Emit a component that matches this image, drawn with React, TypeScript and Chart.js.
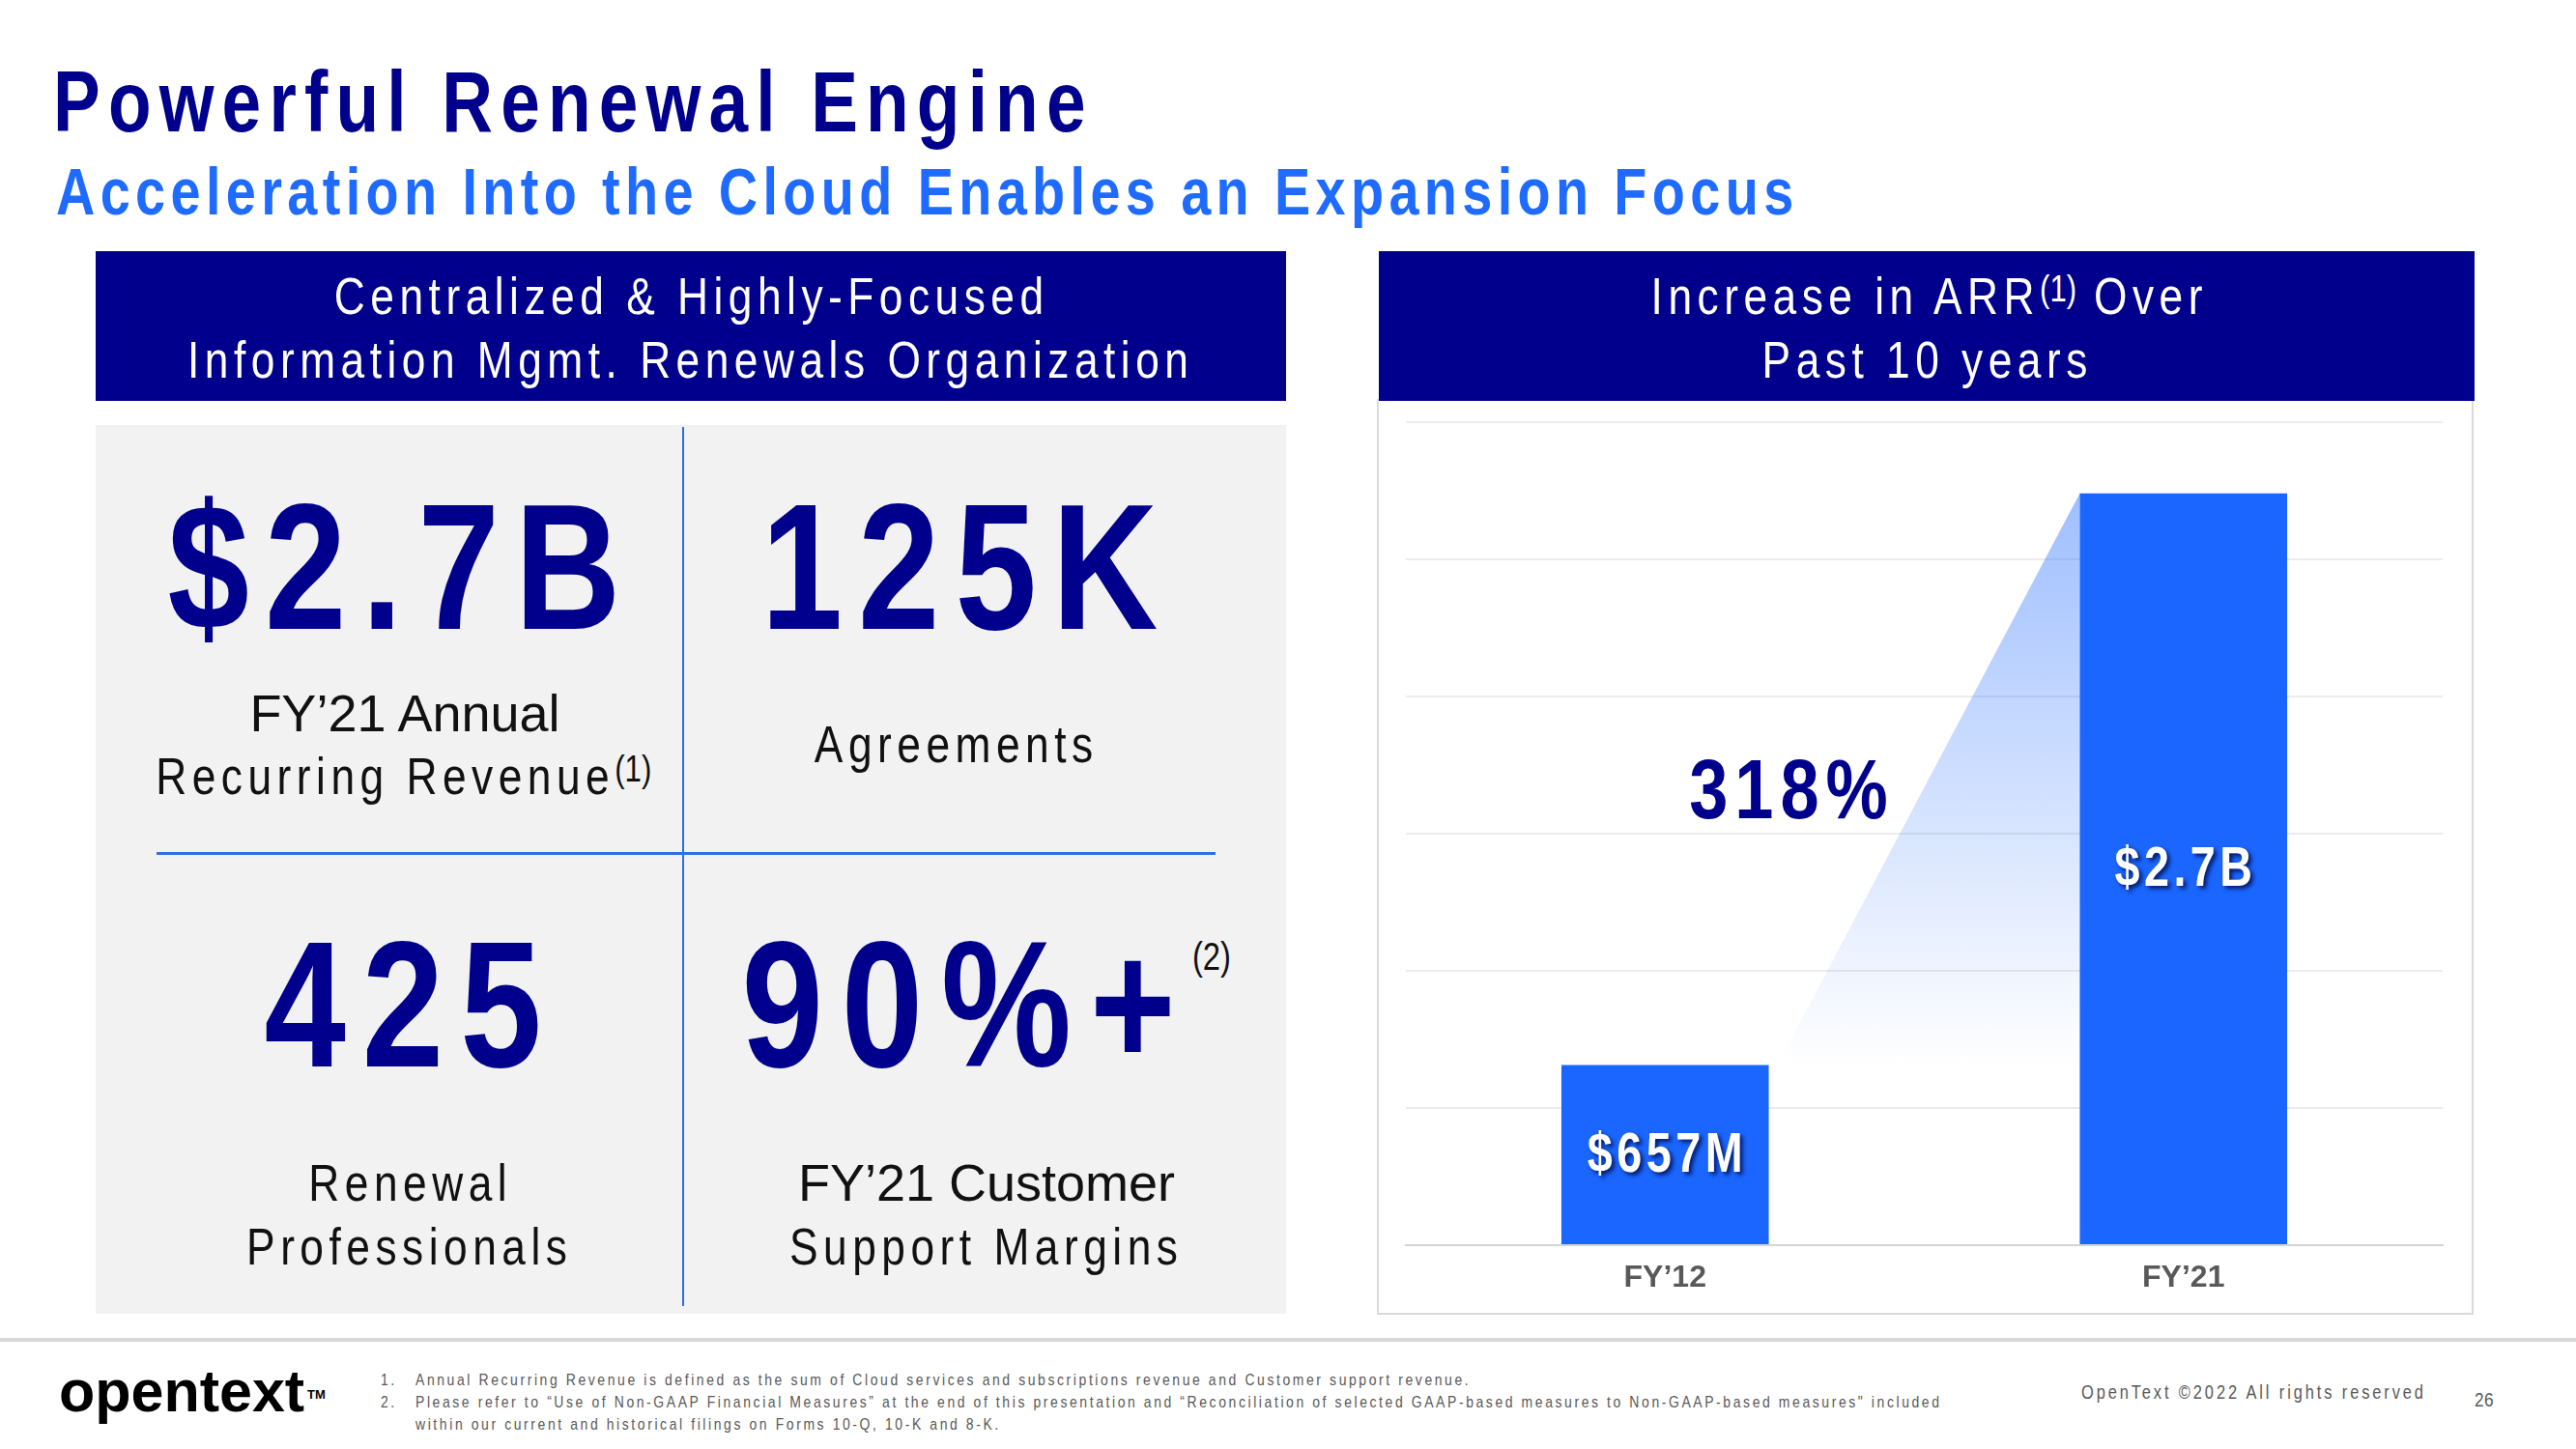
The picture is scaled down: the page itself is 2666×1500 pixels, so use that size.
import React, { useEffect, useRef } from 'react';
import { Chart, registerables } from 'chart.js';

Chart.register(...registerables);

// ---- data ----
const categories = ['FY’12', 'FY’21'];
const arrMillions = [657, 2740];
const barLabels = ['$657M', '$2.7B'];
const axisMin = 0;
const axisMax = 3000;
const axisStep = 500;
const growthLabel = '318%';

// ---- styles ----
const NAVY = '#00008C';
const BLUE = '#1A66FF';
const SUB_BLUE = '#1F6BFF';
const LINE_BLUE = '#2F6FE6';
const SANS = '"Liberation Sans", Arial, sans-serif';
const NARROW_SCALE = 0.82;

type TProps = {
  cx?: number;
  x?: number;
  y: number;
  w?: number;
  size: number;
  bold?: boolean;
  color?: string;
  ls?: number;
  narrow?: boolean;
  children?: React.ReactNode;
};

function T({ cx, x, y, w = 1400, size, bold, color = '#111', ls = 0, narrow = true, children }: TProps) {
  const lh = Math.round(size * 1.2);
  const k = narrow ? NARROW_SCALE : 1;
  const cssLs = ls / k;
  const style: React.CSSProperties = {
    position: 'absolute',
    top: y - lh / 2,
    lineHeight: lh + 'px',
    height: lh,
    fontSize: size,
    fontFamily: SANS,
    fontWeight: bold ? 700 : 400,
    color,
    letterSpacing: cssLs,
    whiteSpace: 'nowrap',
  };
  if (cx !== undefined) {
    style.left = cx - w / 2;
    style.width = w;
    style.textAlign = 'center';
    style.paddingLeft = cssLs;
    style.boxSizing = 'border-box';
    if (narrow) {
      style.transform = `scaleX(${k})`;
      style.transformOrigin = '50% 50%';
    }
  } else {
    style.left = x;
    if (narrow) {
      style.transform = `scaleX(${k})`;
      style.transformOrigin = '0 50%';
    }
  }
  return <div style={style}>{children}</div>;
}

function Sup({ size, top, children }: { size: number; top: number; children: React.ReactNode }) {
  return (
    <span style={{ fontSize: size, position: 'relative', top, letterSpacing: 0, lineHeight: 0 }}>{children}</span>
  );
}

function ArrChart() {
  const ref = useRef<HTMLCanvasElement | null>(null);
  useEffect(() => {
    const canvas = ref.current;
    if (!canvas) return;

    const gradientPlugin = {
      id: 'growthWedge',
      beforeDatasetsDraw(chart: any) {
        const meta = chart.getDatasetMeta(0);
        const b0 = meta.data[0];
        const b1 = meta.data[1];
        if (!b0 || !b1) return;
        const ctx = chart.ctx;
        const x0 = b0.x + b0.width / 2 + 9;
        const x1 = b1.x - b1.width / 2;
        const g = ctx.createLinearGradient(0, b1.y, 0, b0.y);
        g.addColorStop(0, 'rgba(26,102,255,0.42)');
        g.addColorStop(1, 'rgba(26,102,255,0)');
        ctx.save();
        ctx.beginPath();
        ctx.moveTo(x0, b0.y);
        ctx.lineTo(x1, b1.y);
        ctx.lineTo(x1, b0.y);
        ctx.closePath();
        ctx.fillStyle = g;
        ctx.fill();
        ctx.restore();
      },
    };

    const labelPlugin = {
      id: 'barValueLabels',
      afterDatasetsDraw(chart: any) {
        const meta = chart.getDatasetMeta(0);
        const ctx = chart.ctx;
        const ls = 4.5;
        meta.data.forEach((bar: any, i: number) => {
          const cy = (bar.y + bar.base) / 2;
          ctx.save();
          ctx.translate(bar.x, cy + 2);
          ctx.scale(NARROW_SCALE, 1);
          ctx.font = `bold 57px ${SANS}`;
          (ctx as any).letterSpacing = ls / NARROW_SCALE + 'px';
          ctx.textAlign = 'center';
          ctx.textBaseline = 'middle';
          ctx.fillStyle = '#ffffff';
          ctx.shadowColor = 'rgba(0,15,80,0.85)';
          ctx.shadowOffsetX = 3;
          ctx.shadowOffsetY = 3;
          ctx.shadowBlur = 4;
          ctx.fillText(barLabels[i], ls / NARROW_SCALE / 2, 0);
          ctx.restore();
        });
      },
    };

    const chart = new Chart(canvas, {
      type: 'bar',
      data: {
        labels: categories,
        datasets: [
          {
            data: arrMillions,
            backgroundColor: BLUE,
            borderWidth: 0,
            categoryPercentage: 0.8,
            barPercentage: 0.5,
          },
        ],
      },
      options: {
        responsive: false,
        animation: false,
        devicePixelRatio: 1,
        layout: { padding: { left: 28, right: 29, top: 20, bottom: 0 } },
        plugins: { legend: { display: false }, tooltip: { enabled: false } },
        scales: {
          x: {
            grid: { display: false, drawTicks: false },
            border: { display: true, color: '#d4d4d4', width: 2 },
            ticks: {
              padding: 15,
              color: '#595959',
              font: { family: SANS, size: 32, weight: 'bold' },
            },
            afterFit: (s: any) => {
              s.height = 69;
            },
          },
          y: {
            min: axisMin,
            max: axisMax,
            ticks: { display: false, stepSize: axisStep },
            grid: { color: '#ececec', lineWidth: 2, drawTicks: false },
            border: { display: false },
            afterFit: (s: any) => {
              s.width = 0;
            },
          },
        },
      },
      plugins: [gradientPlugin, labelPlugin],
    } as any);
    return () => chart.destroy();
  }, []);
  return (
    <canvas
      ref={ref}
      width={1130}
      height={941}
      style={{ position: 'absolute', left: 1427, top: 417, width: 1130, height: 941 }}
    />
  );
}

export default function App() {
  useEffect(() => {
    document.body.style.margin = '0';
  }, []);
  const lbl = 54;
  const lblLs = 5.5;
  const big = 185;
  const bigLs = 16;
  const fnLs = 2.6;
  return (
    <div
      style={{
        position: 'absolute',
        left: 0,
        top: 0,
        width: 2666,
        height: 1500,
        overflow: 'hidden',
        background: '#ffffff',
      }}
    >
      {/* Titles */}
      <T x={55} y={105} size={89} bold color={NAVY} ls={8.2}>
        Powerful Renewal Engine
      </T>
      <T x={58} y={198} size={68} bold color={SUB_BLUE} ls={5.4}>
        Acceleration Into the Cloud Enables an Expansion Focus
      </T>

      {/* Left header */}
      <div style={{ position: 'absolute', left: 99, top: 260, width: 1232, height: 155, background: NAVY }} />
      <T cx={713} y={306} size={lbl} color="#ffffff" ls={lblLs}>
        Centralized &amp; Highly-Focused
      </T>
      <T cx={712} y={372} size={lbl} color="#ffffff" ls={lblLs}>
        Information Mgmt. Renewals Organization
      </T>

      {/* Left panel */}
      <div style={{ position: 'absolute', left: 99, top: 440, width: 1232, height: 920, background: '#f2f2f2' }} />
      <div style={{ position: 'absolute', left: 706, top: 442, width: 2, height: 910, background: LINE_BLUE }} />
      <div style={{ position: 'absolute', left: 162, top: 882, width: 1096, height: 3, background: LINE_BLUE }} />

      <T cx={408} y={587} size={big} bold color={NAVY} ls={bigLs}>
        $2.7B
      </T>
      <T cx={993} y={587} size={big} bold color={NAVY} ls={bigLs}>
        125K
      </T>
      <T cx={417} y={1040} size={big} bold color={NAVY} ls={17}>
        425
      </T>
      <T cx={992} y={1040} size={big} bold color={NAVY} ls={19}>
        90%+
      </T>
      <T cx={1254} y={990} size={40} color="#111" ls={0}>
        (2)
      </T>

      <T cx={419} y={738} size={lbl} narrow={false} color="#111">
        FY’21 Annual
      </T>
      <T cx={415} y={803} size={lbl} color="#111" ls={lblLs}>
        Recurring Revenue<Sup size={38} top={-13}>(1)</Sup>
      </T>
      <T cx={987} y={770} size={lbl} color="#111" ls={lblLs}>
        Agreements
      </T>
      <T cx={422} y={1224} size={lbl} color="#111" ls={lblLs}>
        Renewal
      </T>
      <T cx={421} y={1290} size={lbl} color="#111" ls={lblLs}>
        Professionals
      </T>
      <T cx={1021} y={1224} size={lbl} narrow={false} color="#111">
        FY’21 Customer
      </T>
      <T cx={1018} y={1290} size={lbl} color="#111" ls={lblLs}>
        Support Margins
      </T>

      {/* Right panel */}
      <div
        style={{
          position: 'absolute',
          left: 1425,
          top: 413,
          width: 1135,
          height: 948,
          border: '2px solid #d9d9d9',
          boxSizing: 'border-box',
        }}
      />
      <div style={{ position: 'absolute', left: 1427, top: 260, width: 1134, height: 155, background: NAVY }} />
      <T cx={1994} y={306} size={lbl} color="#ffffff" ls={lblLs}>
        Increase in ARR<Sup size={38} top={-13}>(1)</Sup> Over
      </T>
      <T cx={1992} y={372} size={lbl} color="#ffffff" ls={lblLs}>
        Past 10 years
      </T>
      <ArrChart />
      <T cx={1851} y={817} size={88} bold color={NAVY} ls={7}>
        {growthLabel}
      </T>

      {/* Footer */}
      <div style={{ position: 'absolute', left: 0, top: 1385, width: 2666, height: 4, background: '#d9d9d9' }} />
      <T x={61} y={1440} size={61} bold narrow={false} color="#000" ls={0}>
        opentext
      </T>
      <T x={318} y={1444} size={13} bold narrow={false} color="#000">
        TM
      </T>
      <T x={394} y={1429} size={17} color="#595959" ls={fnLs}>
        1.
      </T>
      <T x={430} y={1429} size={17} color="#595959" ls={fnLs}>
        Annual Recurring Revenue is defined as the sum of Cloud services and subscriptions revenue and Customer support revenue.
      </T>
      <T x={394} y={1452} size={17} color="#595959" ls={fnLs}>
        2.
      </T>
      <T x={430} y={1452} size={17} color="#595959" ls={fnLs}>
        Please refer to “Use of Non-GAAP Financial Measures” at the end of this presentation and “Reconciliation of selected GAAP-based measures to Non-GAAP-based measures" included
      </T>
      <T x={430} y={1475} size={17} color="#595959" ls={fnLs}>
        within our current and historical filings on Forms 10-Q, 10-K and 8-K.
      </T>
      <T x={2154} y={1441} size={20} color="#595959" ls={2.9}>
        OpenText ©2022 All rights reserved
      </T>
      <T x={2561} y={1448} size={21} color="#595959" ls={0.5}>
        26
      </T>
    </div>
  );
}
